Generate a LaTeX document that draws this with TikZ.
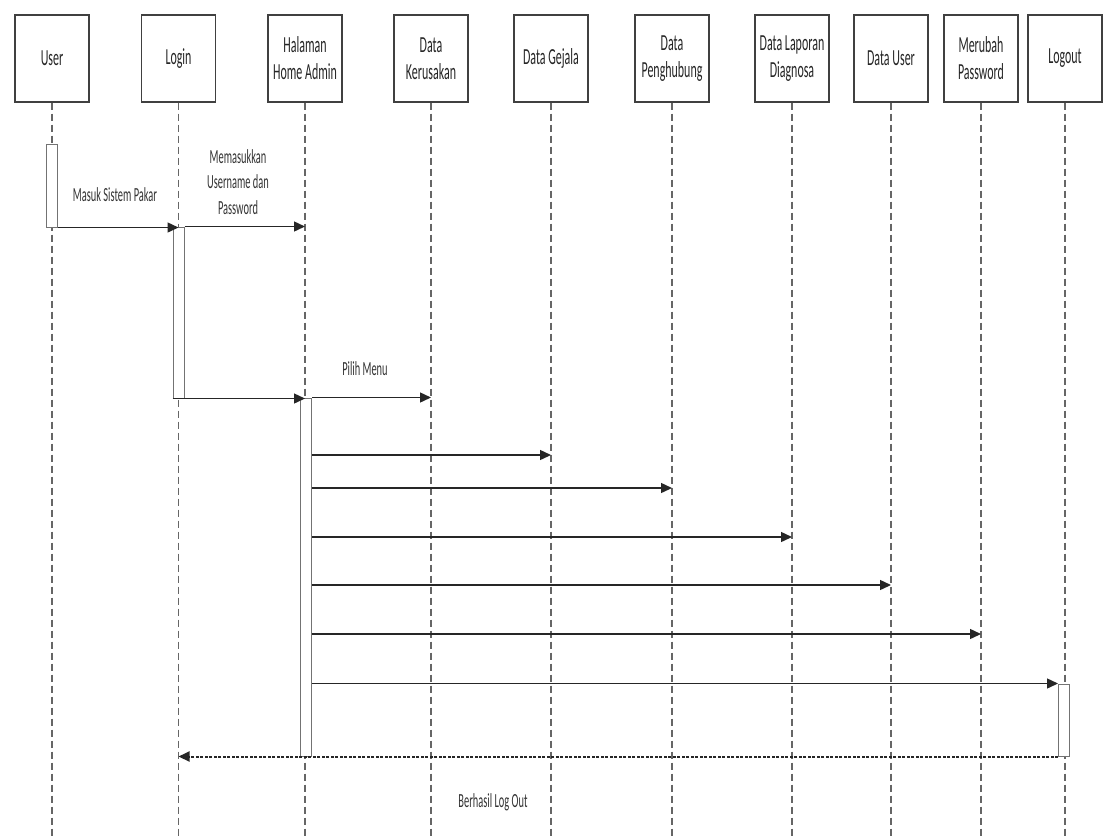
\documentclass[tikz,border=0pt]{standalone}
\usepackage{fontspec}
\setmainfont{Carlito}[FakeStretch=0.52]
\usetikzlibrary{arrows.meta}
\begin{document}
\begin{tikzpicture}[x=1pt,y=-1pt,
  obj/.style={draw=black!75, line width=1.3pt, fill=white, minimum width=74pt,
    minimum height=87pt, inner sep=0pt, align=center, text=black!85,
    font=\fontsize{23}{27}\selectfont},
  life/.style={draw=black!60, line width=1.1pt, dash pattern=on 7pt off 4pt},
  act/.style={draw=black!55, line width=1pt, fill=white, inner sep=0pt,
    minimum width=11pt},
  msg/.style={draw=black!85, line width=1.4pt, -{Triangle[length=11pt,width=10pt]}},
  ret/.style={draw=black!85, line width=2pt, dash pattern=on 3pt off 1.5pt,
    -{Triangle[length=11pt,width=10pt]}},
  lbl/.style={font=\fontsize{20}{25.5}\selectfont, align=center, text=black!80}]
\useasboundingbox (0,0) rectangle (1106,839);

% participants
\node[obj] (user)   at (52,58.5)   {User};
\node[obj] (login)  at (178.5,58.5) {Login};
\node[obj] (home)   at (305,58.5)  {Halaman\\Home Admin};
\node[obj] (kerus)  at (431,58.5)  {Data\\Kerusakan};
\node[obj] (gejala) at (551,58.5)  {Data Gejala};
\node[obj] (hub)    at (672,58.5)  {Data\\Penghubung};
\node[obj] (lap)    at (792,58.5)  {Data Laporan\\Diagnosa};
\node[obj] (duser)  at (891,58.5)  {Data User};
\node[obj] (pass)   at (981,58.5)  {Merubah\\Password};
\node[obj] (logout) at (1065,58.5) {Logout};

% lifelines
\foreach \p in {user,login,home,kerus,gejala,hub,lap,duser,pass,logout}{
  \coordinate (\p-end) at (\p |- 0,839);
  \draw[life] (\p.south) -- (\p-end);
}

% activation bars
\node[act, minimum height=83pt]  (actUser)   at (51.5,185.5) {};
\node[act, minimum height=171pt] (actLogin)  at (178.5,312.5) {};
\node[act, minimum height=358pt] (actHome)   at (306,577) {};
\node[act, minimum height=72pt]  (actLogout) at (1064,720) {};

% messages
\draw[msg] (actUser.south east) -- (actUser.south east -| login);
\draw[msg] (actLogin.north east) -- (actLogin.north east -| home);
\draw[msg] (actLogin.south west) -- (actLogin.south west -| home);
\draw[msg] (actHome.north east) -- (actHome.north east -| kerus);

\coordinate (m5)  at (actHome.east |- 0,455);
\coordinate (m6)  at (actHome.east |- 0,488);
\coordinate (m7)  at (actHome.east |- 0,537);
\coordinate (m8)  at (actHome.east |- 0,585);
\coordinate (m9)  at (actHome.east |- 0,634);
\draw[msg] (m5) -- (m5 -| gejala);
\draw[msg] (m6) -- (m6 -| hub);
\draw[msg] (m7) -- (m7 -| lap);
\draw[msg] (m8) -- (m8 -| duser);
\draw[msg] (m9) -- (m9 -| pass);
\coordinate (m10) at (actHome.east |- actLogout.north);
\draw[msg] (m10) -- (actLogout.north west);

\draw[ret] (actLogout.south west) -- (actLogout.south west -| login);

% message labels
\node[lbl] (l1) at (115,195) {Masuk Sistem Pakar};
\node[lbl] (l2) at (238,182) {Memasukkan\\Username dan\\Password};
\node[lbl] (l3) at (365,369) {Pilih Menu};
\node[lbl] (l4) at (493,802) {Berhasil Log Out};
\end{tikzpicture}
\end{document}
